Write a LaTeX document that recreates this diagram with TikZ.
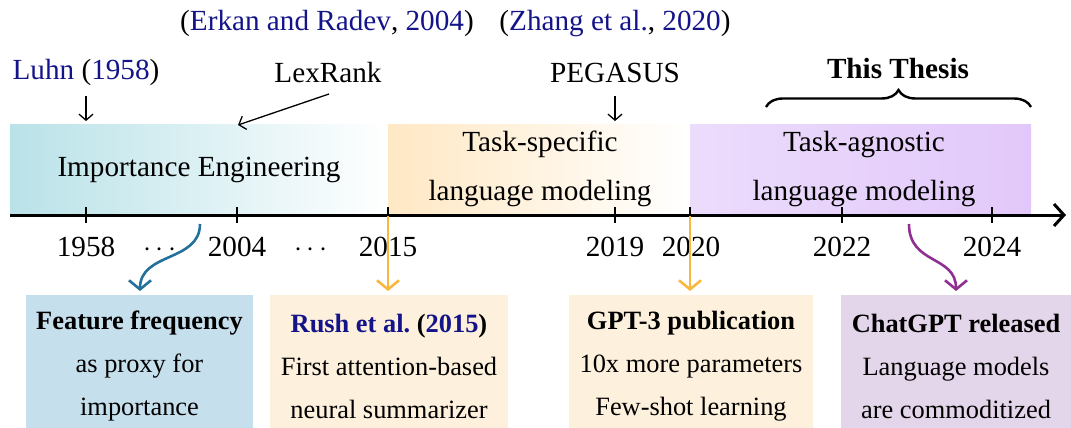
\documentclass[tikz,border=0pt]{standalone}
\usepackage{fontspec}
\setmainfont{Liberation Serif}
\usetikzlibrary{arrows.meta,decorations.pathreplacing}
\definecolor{citeblue}{HTML}{14148A}
\definecolor{tealband}{HTML}{B9E2E8}
\definecolor{orangeband}{HTML}{FFE8C4}
\definecolor{lavL}{HTML}{ECDCFC}
\definecolor{lavR}{HTML}{E2C8FA}
\definecolor{boxblue}{HTML}{C6DFEC}
\definecolor{boxorange}{HTML}{FDF0DC}
\definecolor{boxpurple}{HTML}{E4D6EA}
\definecolor{arrteal}{HTML}{23709A}
\definecolor{arrorange}{HTML}{F9B73F}
\definecolor{arrpurple}{HTML}{8E2F91}
\newcommand{\cit}[1]{\textcolor{citeblue}{#1}}
\begin{document}
\begin{tikzpicture}[x=0.5pt,y=-0.5pt,
  lbl/.style={font=\fontsize{14.6}{17}\selectfont, inner sep=0pt, anchor=base},
  boxtext/.style={font=\fontsize{13.2}{21.5}\selectfont, align=center, inner sep=0pt, minimum height=71pt},
  smallarrow/.style={line width=0.65pt, -{Straight Barb[length=3pt,width=7pt]}},
  colarrow/.style={line width=1.3pt, -{Straight Barb[length=4.5pt,width=11pt]}},
  tick/.style={line width=1.4pt}
]
\useasboundingbox (0,0) rectangle (1071,428);

% bands
\path[left color=tealband, right color=white] (10,124) rectangle (388,215);
\path[left color=orangeband, right color=white] (388,124) rectangle (690,215);
\path[left color=lavL, right color=lavR] (690,124) rectangle (1031,215);

% band labels
\node[lbl] (ie) at (199,176) {Importance Engineering};
\node[lbl] (ts1) at (540,151) {Task-specific};
\node[lbl] (ts2) at (540,200) {language modeling};
\node[lbl] (ta1) at (864,151) {Task-agnostic};
\node[lbl] (ta2) at (864,200) {language modeling};

% axis
\coordinate (ax0) at (10,215);
\coordinate (ax1) at (1066,215);
\draw[line width=1.5pt, -{Straight Barb[length=5pt,width=11pt]}] (ax0) -- (ax1);
\foreach \x/\n in {86/t58,237/t04,388/t15,615/t19,690/t20,842/t22,992/t24}{
  \coordinate (\n) at (\x,215);
  \draw[tick] (\x,207) -- (\x,223);
}

% tick labels
\node[lbl] (y58) at (86,256) {1958};
\node[lbl] (d1) at (160,256) {$\cdots$};
\node[lbl] (y04) at (237,256) {2004};
\node[lbl] (d2) at (311,256) {$\cdots$};
\node[lbl] (y15) at (388,256) {2015};
\node[lbl] (y19) at (615,256) {2019};
\node[lbl] (y20) at (691,256) {2020};
\node[lbl] (y22) at (842,256) {2022};
\node[lbl] (y24) at (992,256) {2024};

% top labels
\node[lbl] (erkan) at (327,30) {(\cit{Erkan and Radev}, \cit{2004})};
\node[lbl] (zhang) at (615,30) {(\cit{Zhang et al.}, \cit{2020})};
\node[lbl] (luhn) at (86,79) {\cit{Luhn} (\cit{1958})};
\node[lbl] (lexrank) at (328,83) {LexRank};
\node[lbl] (pegasus) at (615,83) {PEGASUS};
\node[lbl, font=\fontsize{14.6}{17}\selectfont\bfseries] (thesis) at (898,78) {This Thesis};

\coordinate (luhnA) at (86,96);
\coordinate (luhnB) at (86,121);
\draw[smallarrow] (luhnA) -- (luhnB);
\coordinate (lexA) at (329,94);
\coordinate (lexB) at (238,125);
\draw[smallarrow] (lexA) -- (lexB);
\coordinate (pegA) at (615,96);
\coordinate (pegB) at (615,121);
\draw[smallarrow] (pegA) -- (pegB);

% brace
\coordinate (brL) at (766,107);
\coordinate (brR) at (1031,107);
\draw[line width=1.2pt, decorate, decoration={brace, amplitude=8.5pt}] (brL) -- (brR);

% boxes
\node[boxtext, fill=boxblue, minimum width=113.5pt] (b1) at (139.5,366)
  {\textbf{Feature frequency}\\as proxy for\\importance};
\node[boxtext, fill=boxorange, minimum width=119pt] (b2) at (389,366)
  {\textbf{\cit{Rush et al.}\ (\cit{2015})}\\First attention-based\\neural summarizer};
\node[boxtext, fill=boxorange, minimum width=122pt] (b3) at (691,366)
  {\textbf{GPT-3 publication}\\10x more parameters\\Few-shot learning};
\node[boxtext, fill=boxpurple, minimum width=115pt] (b4) at (956,366)
  {\textbf{ChatGPT released}\\Language models\\are commoditized};

% colored arrows
\coordinate (tA) at (200,224);
\coordinate (tB) at (140,291);
\draw[colarrow, arrteal] (tA) .. controls (200,262) and (140,252) .. (tB);
\coordinate (oA) at (388,216);
\coordinate (oB) at (388,291);
\draw[colarrow, arrorange] (oA) -- (oB);
\coordinate (o2A) at (690,216);
\coordinate (o2B) at (690,291);
\draw[colarrow, arrorange] (o2A) -- (o2B);
\coordinate (pA) at (909,224);
\coordinate (pB) at (956,291);
\draw[colarrow, arrpurple] (pA) .. controls (909,265) and (956,255) .. (pB);
\end{tikzpicture}
\end{document}
